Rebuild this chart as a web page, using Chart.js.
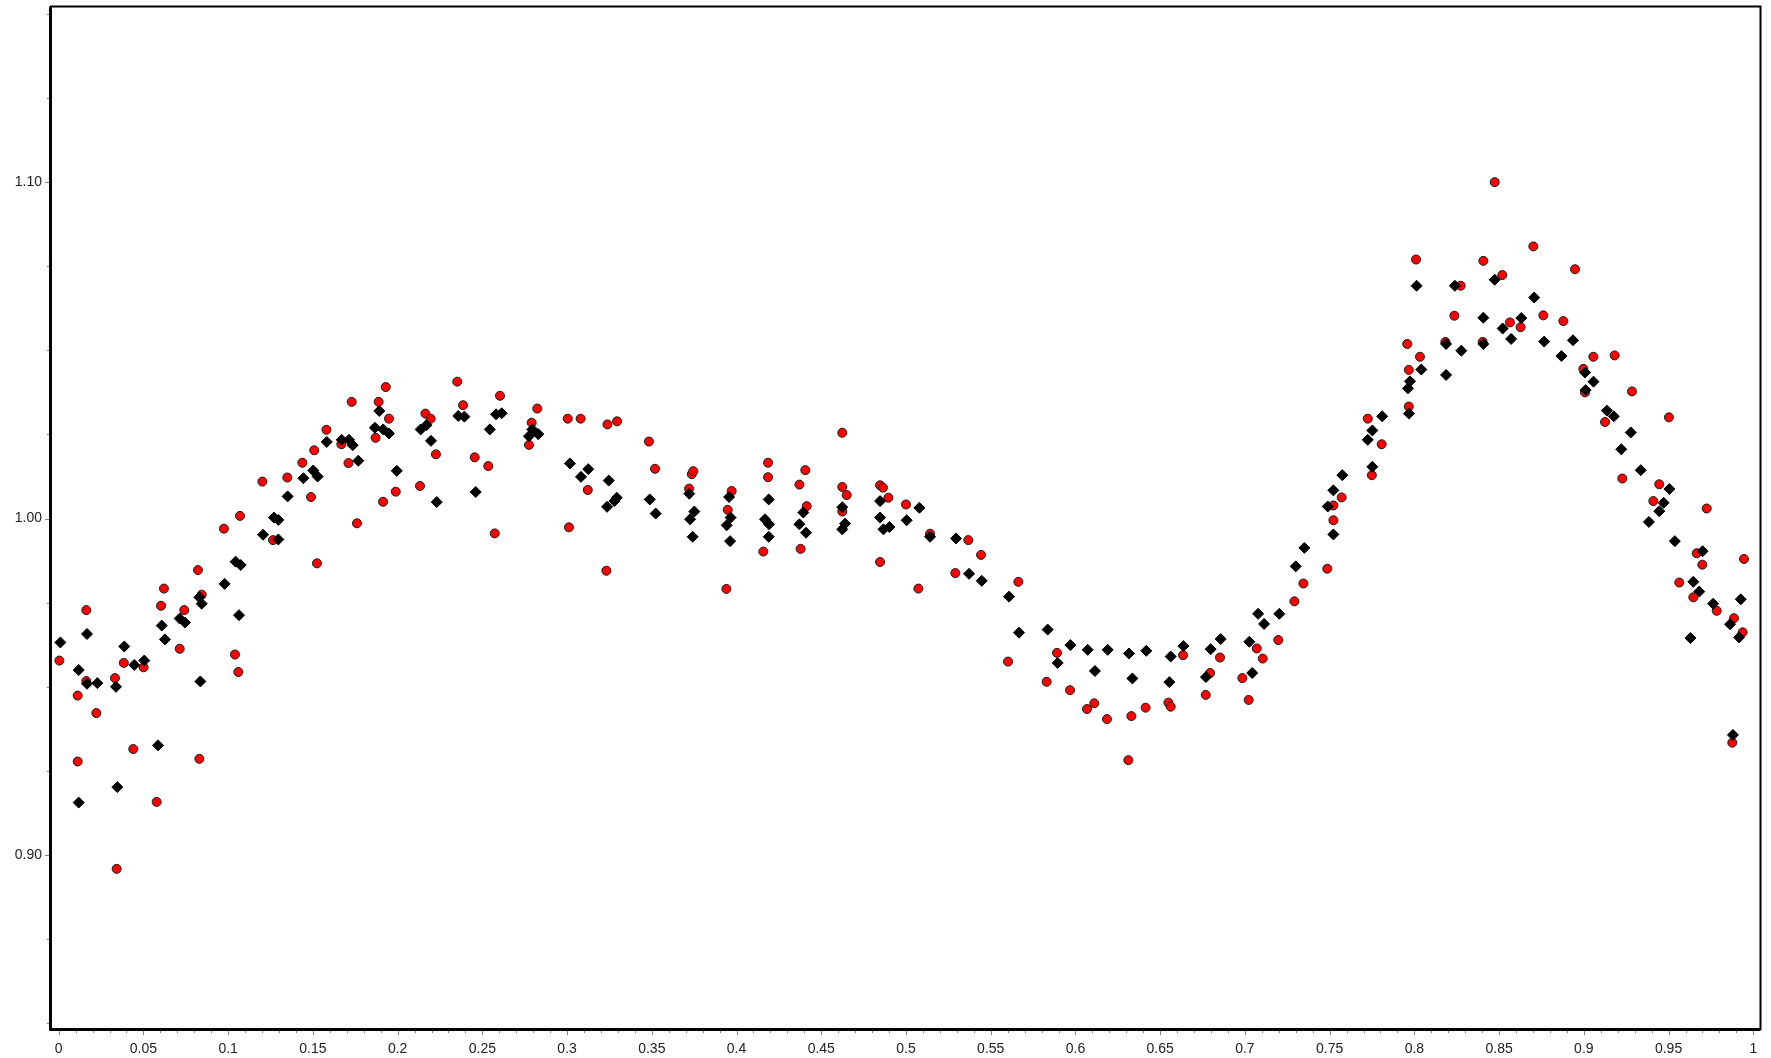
<!DOCTYPE html>
<html>
<head>
<meta charset="utf-8">
<title>Phase plot</title>
<script src="https://cdn.jsdelivr.net/npm/chart.js@4/dist/chart.umd.min.js"></script>
<style>
  html, body { margin: 0; padding: 0; background: #ffffff; }
  #wrap { position: relative; width: 1771px; height: 1058px; }
</style>
</head>
<body>
<div id="wrap"><canvas id="plot"></canvas></div>
<script>
// Series A (black diamonds): phase and relative flux
const phaseA = [
  0.001, 0.0118, 0.0118, 0.0167, 0.0167, 0.0228, 0.0338, 0.0346, 0.0387, 0.0446,
  0.0505, 0.0586, 0.0608, 0.0627, 0.0714, 0.0745, 0.083, 0.0836, 0.0844, 0.0979,
  0.1044, 0.1064, 0.1074, 0.1206, 0.127, 0.1296, 0.1296, 0.1351, 0.1444, 0.1502,
  0.1528, 0.1582,
  0.167, 0.1713, 0.1735, 0.1768, 0.1866, 0.1892, 0.1915, 0.1949, 0.1995, 0.2136,
  0.2171, 0.2197, 0.2231, 0.2358, 0.2394, 0.2461, 0.2544, 0.2581, 0.2614, 0.2775,
  0.2795, 0.283, 0.3017, 0.3082, 0.3125, 0.3236, 0.3246, 0.3279, 0.3293,
  0.3488, 0.3523, 0.3721, 0.3726, 0.3741, 0.3751, 0.3942, 0.3956, 0.3962, 0.3965,
  0.4168, 0.419, 0.4192, 0.419, 0.4371, 0.4394, 0.441, 0.4624, 0.4624, 0.464,
  0.4847, 0.4847, 0.4867, 0.4902, 0.5004,
  0.5079, 0.5142, 0.5295, 0.5372, 0.5447, 0.5608, 0.5667, 0.5836, 0.5895, 0.597,
  0.6072, 0.6115, 0.619, 0.6316, 0.6336, 0.6418, 0.6554, 0.6562, 0.6637,
  0.677, 0.6798, 0.6857, 0.7026, 0.7043, 0.7078, 0.7113, 0.7203, 0.73, 0.7351,
  0.7489, 0.7522, 0.7522, 0.7575, 0.7725, 0.7752, 0.7752, 0.781, 0.7962, 0.7968,
  0.7974, 0.8013, 0.8041, 0.8187, 0.8187, 0.8239, 0.8277, 0.8407, 0.8407,
  0.8474, 0.8521, 0.8571, 0.8631, 0.8707, 0.8766, 0.8868, 0.8936, 0.9007, 0.9011,
  0.9057, 0.9136, 0.9177, 0.9221, 0.9277, 0.9336, 0.9384, 0.9445, 0.9471, 0.9505,
  0.9537, 0.9629, 0.9646, 0.9681, 0.9701, 0.9763, 0.9863, 0.988, 0.9916, 0.9926
];
const fluxA = [
  0.9632, 0.955, 0.9156, 0.9657, 0.9509, 0.9511, 0.95, 0.9202, 0.962, 0.9565,
  0.9578, 0.9326, 0.9682, 0.9641, 0.9703, 0.9691, 0.9766, 0.9516, 0.9747, 0.9806,
  0.9872, 0.9713, 0.9862, 0.9952, 1.0003, 0.9996, 0.9938, 1.0066, 1.012, 1.0143,
  1.0125, 1.0228,
  1.0234, 1.0234, 1.0218, 1.0172, 1.027, 1.032, 1.0265, 1.0253, 1.0142, 1.0265,
  1.0278, 1.0231, 1.0049, 1.0305, 1.0303, 1.0079, 1.0265, 1.031, 1.0313, 1.0245,
  1.0265, 1.0251, 1.0164, 1.0124, 1.0147, 1.0035, 1.0113, 1.0052, 1.0062,
  1.0057, 1.0015, 1.0074, 0.9998, 0.9946, 1.0021, 0.998, 1.0064, 0.9933, 1.0003,
  0.9998, 1.0057, 0.9983, 0.9946, 0.9983, 1.0018, 0.9958, 1.0034, 0.9968, 0.9985,
  1.0052, 1.0003, 0.9968, 0.9975, 0.9995,
  1.0032, 0.9946, 0.9941, 0.9836, 0.9815, 0.9768, 0.9661, 0.967, 0.9571, 0.9624,
  0.961, 0.9547, 0.961, 0.9599, 0.9525, 0.9607, 0.9514, 0.959, 0.9621,
  0.9529, 0.9612, 0.9642, 0.9634, 0.9541, 0.9717, 0.9687, 0.9717, 0.9858, 0.9913,
  1.0036, 1.0084, 0.9953, 1.0129, 1.0234, 1.0262, 1.0154, 1.0304, 1.0387, 1.0312,
  1.0408, 1.0692, 1.0443, 1.0519, 1.0427, 1.0692, 1.0499, 1.0597, 1.0519,
  1.071, 1.0565, 1.0534, 1.0596, 1.0657, 1.0526, 1.0483, 1.053, 1.0434, 1.0382,
  1.0407, 1.0321, 1.0304, 1.0206, 1.0256, 1.0144, 0.999, 1.0022, 1.0047, 1.0088,
  0.9933, 0.9645, 0.9812, 0.9783, 0.9903, 0.9747, 0.9686, 0.9357, 0.9647, 0.976
];

// Series B (red circles): phase and relative flux
const phaseB = [
  0.0004, 0.0112, 0.0112, 0.0163, 0.0163, 0.0222, 0.0332, 0.0342, 0.0384, 0.044,
  0.0501, 0.0578, 0.0604, 0.0621, 0.0714, 0.0741, 0.0822, 0.083, 0.0844, 0.0975,
  0.104, 0.106, 0.107, 0.1202, 0.1265, 0.1349, 0.1438, 0.1489, 0.1508, 0.1524,
  0.158,
  0.1668, 0.171, 0.1729, 0.176, 0.187, 0.1888, 0.1914, 0.193, 0.1949, 0.1989,
  0.2132, 0.2164, 0.2195, 0.2226, 0.2352, 0.2386, 0.2455, 0.2535, 0.2573, 0.2604,
  0.2775, 0.2791, 0.2824, 0.3004, 0.3011, 0.308, 0.3122, 0.3232, 0.3238, 0.3295,
  0.3483, 0.3519, 0.372, 0.3736, 0.3745, 0.394, 0.3948, 0.3971, 0.4158, 0.4186,
  0.4186, 0.4371, 0.4378, 0.4406, 0.4414, 0.4624, 0.4624, 0.4624, 0.465, 0.4847,
  0.4847, 0.4864, 0.4896, 0.5,
  0.5073, 0.5142, 0.5291, 0.5368, 0.5443, 0.5602, 0.5663, 0.583, 0.5891, 0.5968,
  0.6068, 0.6111, 0.6186, 0.6312, 0.633, 0.6414, 0.6548, 0.6562, 0.6635,
  0.6769, 0.6794, 0.6853, 0.6985, 0.7022, 0.707, 0.7105, 0.7197, 0.7292, 0.7345,
  0.7486, 0.7522, 0.7522, 0.7571, 0.7725, 0.7749, 0.7807, 0.7958, 0.7967, 0.7967,
  0.801, 0.8033, 0.8183, 0.8236, 0.8273, 0.8403, 0.8407,
  0.8474, 0.8519, 0.8564, 0.8627, 0.8702, 0.8761, 0.8879, 0.8948, 0.8997, 0.9007,
  0.9056, 0.9125, 0.9182, 0.9227, 0.9284, 0.941, 0.9445, 0.9502, 0.9563, 0.9646,
  0.9666, 0.9699, 0.9725, 0.9784, 0.9876, 0.9886, 0.9937, 0.9945
];
const fluxB = [
  0.9578, 0.9474, 0.9278, 0.9728, 0.9517, 0.9422, 0.9526, 0.8959, 0.9571, 0.9315,
  0.9558, 0.9158, 0.9741, 0.9792, 0.9613, 0.9728, 0.9847, 0.9286, 0.9774, 0.997,
  0.9596, 0.9544, 1.0008, 1.011, 0.9936, 1.0122, 1.0166, 1.0064, 1.0203, 0.9867,
  1.0264,
  1.0221, 1.0165, 1.0347, 0.9986, 1.024, 1.0347, 1.005, 1.0391, 1.0297, 1.008,
  1.0097, 1.0312, 1.0297, 1.0191, 1.0407, 1.0337, 1.0182, 1.0156, 0.9956, 1.0365,
  1.0219, 1.0285, 1.0327, 1.0297, 0.9974, 1.0297, 1.0085, 0.9845, 1.028, 1.0289,
  1.0229, 1.0148, 1.0089, 1.0132, 1.0141, 0.9791, 1.0026, 1.0082, 0.9902, 1.0166,
  1.0123, 1.0101, 0.991, 1.0144, 1.0037, 1.0255, 1.0094, 1.0021, 1.007, 1.0099,
  0.9871, 1.0092, 1.0062, 1.0042,
  0.9792, 0.9955, 0.9838, 0.9936, 0.9892, 0.9575, 0.9812, 0.9515, 0.9601, 0.949,
  0.9434, 0.9451, 0.9404, 0.9282, 0.9413, 0.9438, 0.9453, 0.9441, 0.9594,
  0.9476, 0.9541, 0.9587, 0.9526, 0.9461, 0.9614, 0.9584, 0.9639, 0.9754, 0.9807,
  0.9851, 1.0039, 0.9995, 1.0063, 1.0297, 1.0129, 1.0221, 1.0519, 1.0442, 1.0333,
  1.077, 1.0481, 1.0525, 1.0603, 1.0692, 1.0525, 1.0766,
  1.1, 1.0724, 1.0583, 1.0569, 1.0809, 1.0604, 1.0587, 1.0741, 1.0445, 1.0375,
  1.0481, 1.0287, 1.0485, 1.0119, 1.0378, 1.0052, 1.0102, 1.0301, 0.981, 0.9766,
  0.9897, 0.9863, 1.003, 0.9726, 0.9334, 0.9704, 0.9662, 0.988
];

// Axis ticks
const xTickValues = [0, 0.05, 0.1, 0.15, 0.2, 0.25, 0.3, 0.35, 0.4, 0.45, 0.5,
                     0.55, 0.6, 0.65, 0.7, 0.75, 0.8, 0.85, 0.9, 0.95, 1];
const xTickLabels = ['0', '0.05', '0.1', '0.15', '0.2', '0.25', '0.3', '0.35', '0.4', '0.45', '0.5',
                     '0.55', '0.6', '0.65', '0.7', '0.75', '0.8', '0.85', '0.9', '0.95', '1'];
const yTickValues = [0.90, 1.00, 1.10];
const yTickLabels = ['0.90', '1.00', '1.10'];
const xMinorStep = 0.01;
const yMinorStep = 0.025;

const toPoints = (xs, ys) => xs.map((x, i) => ({ x: x, y: ys[i] }));

// Draws the box around the plot area plus major/minor tick marks.
const frameAndTicks = {
  id: 'frameAndTicks',
  afterDraw(chart) {
    const { ctx, chartArea: a, scales } = chart;
    const xs = scales.x, ys = scales.y;
    ctx.save();

    ctx.strokeStyle = '#808080';
    ctx.lineWidth = 1;
    ctx.beginPath();
    const nx = Math.round((xs.max - xs.min) / xMinorStep) + 2;
    for (let i = -1; i <= nx; i++) {
      const v = i * xMinorStep;
      if (v < xs.min || v > xs.max) continue;
      const px = Math.round(xs.getPixelForValue(v)) + 0.5;
      const len = (i % 5 === 0) ? 6 : 4;
      ctx.moveTo(px, a.bottom);
      ctx.lineTo(px, a.bottom + len);
    }
    const y0 = Math.ceil(ys.min / yMinorStep);
    const y1 = Math.floor(ys.max / yMinorStep);
    for (let j = y0; j <= y1; j++) {
      const v = j * yMinorStep;
      const py = Math.round(ys.getPixelForValue(v)) + 0.5;
      const major = yTickValues.some(t => Math.abs(t - v) < 1e-6);
      const len = major ? 6 : 4;
      ctx.moveTo(a.left, py);
      ctx.lineTo(a.left - len, py);
    }
    ctx.stroke();

    ctx.strokeStyle = '#000000';
    ctx.lineWidth = 2;
    ctx.strokeRect(a.left, a.top, a.right - a.left, a.bottom - a.top);
    ctx.lineWidth = 1;
    ctx.beginPath();
    ctx.moveTo(a.left - 1.5, a.top);
    ctx.lineTo(a.left - 1.5, a.bottom + 1.5);
    ctx.lineTo(a.right, a.bottom + 1.5);
    ctx.stroke();
    ctx.restore();
  }
};

Chart.defaults.font.family = '"Liberation Sans", Arial, sans-serif';
Chart.defaults.color = '#222222';

new Chart(document.getElementById('plot'), {
  type: 'scatter',
  data: {
    datasets: [
      {
        label: 'A',
        data: toPoints(phaseA, fluxA),
        pointStyle: 'rectRot',
        pointRadius: 5.5,
        backgroundColor: '#000000',
        borderColor: '#000000',
        borderWidth: 1
      },
      {
        label: 'B',
        data: toPoints(phaseB, fluxB),
        pointStyle: 'circle',
        pointRadius: 4.5,
        backgroundColor: '#ff0000',
        borderColor: '#1a1a1a',
        borderWidth: 1
      }
    ]
  },
  options: {
    responsive: true,
    maintainAspectRatio: false,
    animation: false,
    events: [],
    layout: { padding: { left: 0, right: 10.5, top: 6, bottom: 0 } },
    plugins: { legend: { display: false }, tooltip: { enabled: false } },
    scales: {
      x: {
        type: 'linear',
        min: -0.00454,
        max: 1.00425,
        afterBuildTicks: s => { s.ticks = xTickValues.map(v => ({ value: v })); },
        afterFit: s => {
          s.height = 29;
          s.paddingLeft = 0; s.paddingRight = 0; s.paddingTop = 0; s.paddingBottom = 0;
        },
        grid: { display: false, drawTicks: false },
        border: { display: false },
        ticks: {
          autoSkip: false,
          maxRotation: 0,
          padding: 12,
          font: { size: 14 },
          callback: (v, i) => xTickLabels[i]
        }
      },
      y: {
        type: 'linear',
        min: 0.8483,
        max: 1.1522,
        afterBuildTicks: s => { s.ticks = yTickValues.map(v => ({ value: v })); },
        afterFit: s => {
          s.width = 51;
          s.paddingLeft = 0; s.paddingRight = 0; s.paddingTop = 0; s.paddingBottom = 0;
        },
        grid: { display: false, drawTicks: false },
        border: { display: false },
        ticks: {
          autoSkip: false,
          padding: 9,
          font: { size: 14 },
          callback: (v, i) => yTickLabels[i]
        }
      }
    }
  },
  plugins: [frameAndTicks]
});
</script>
</body>
</html>
